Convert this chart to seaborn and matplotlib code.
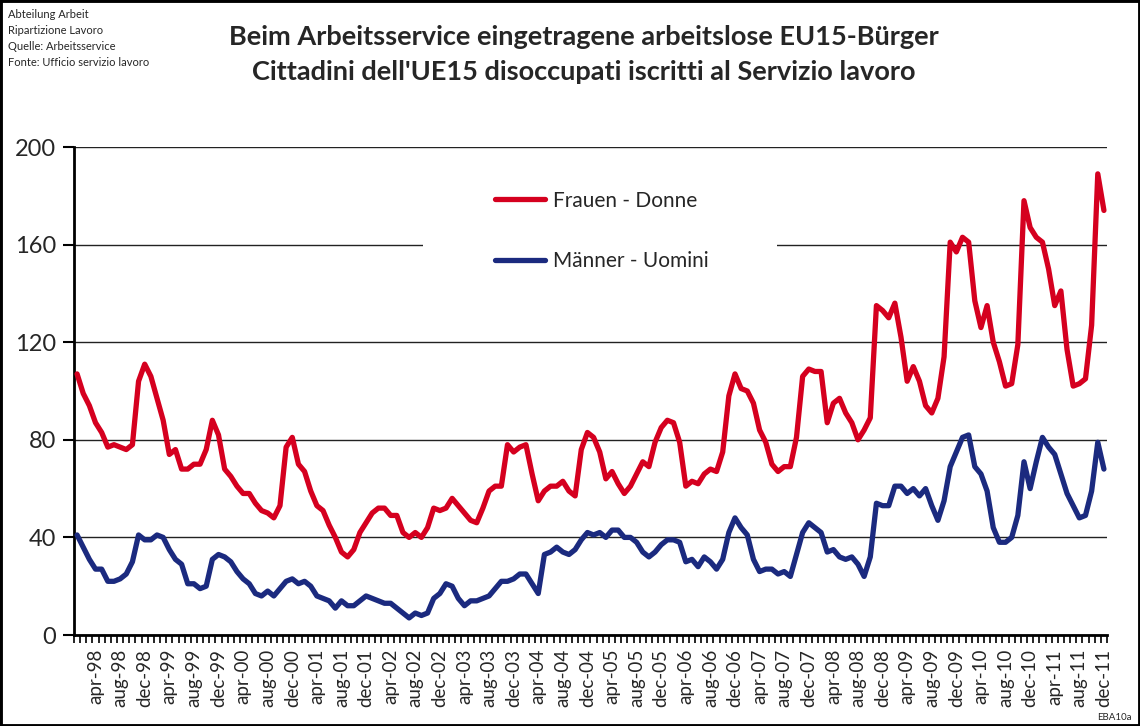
import numpy as np
import pandas as pd
import matplotlib
matplotlib.use("Agg")
import matplotlib.pyplot as plt
from matplotlib.patches import Rectangle
from matplotlib.ticker import FixedLocator, NullFormatter
import seaborn as sns

# Monthly registered unemployed EU15 citizens, Jan 1998 - Dec 2011
month_names = ["jan", "feb", "mar", "apr", "may", "jun",
               "jul", "aug", "sep", "oct", "nov", "dec"]
years = list(range(1998, 2012))
month_labels = [f"{m}-{y % 100:02d}" for y in years for m in month_names]

frauen = [
    107, 99, 94, 87, 83, 77, 78, 77, 76, 78, 104, 111,   # 1998
    106, 97, 88, 74, 76, 68, 68, 70, 70, 76, 88, 82,     # 1999
    68, 65, 61, 58, 58, 54, 51, 50, 48, 53, 77, 81,      # 2000
    70, 67, 59, 53, 51, 45, 40, 34, 32, 35, 42, 46,      # 2001
    50, 52, 52, 49, 49, 42, 40, 42, 40, 44, 52, 51,      # 2002
    52, 56, 53, 50, 47, 46, 52, 59, 61, 61, 78, 75,      # 2003
    77, 78, 66, 55, 59, 61, 61, 63, 59, 57, 76, 83,      # 2004
    81, 75, 64, 67, 62, 58, 61, 66, 71, 69, 79, 85,      # 2005
    88, 87, 79, 61, 63, 62, 66, 68, 67, 75, 98, 107,     # 2006
    101, 100, 95, 84, 79, 70, 67, 69, 69, 81, 106, 109,  # 2007
    108, 108, 87, 95, 97, 91, 87, 80, 84, 89, 135, 133,  # 2008
    130, 136, 122, 104, 110, 104, 94, 91, 97, 114, 161, 157,   # 2009
    163, 161, 137, 126, 135, 120, 112, 102, 103, 119, 178, 167,  # 2010
    163, 161, 150, 135, 141, 117, 102, 103, 105, 127, 189, 174,  # 2011
]

maenner = [
    41, 36, 31, 27, 27, 22, 22, 23, 25, 30, 41, 39,      # 1998
    39, 41, 40, 35, 31, 29, 21, 21, 19, 20, 31, 33,      # 1999
    32, 30, 26, 23, 21, 17, 16, 18, 16, 19, 22, 23,      # 2000
    21, 22, 20, 16, 15, 14, 11, 14, 12, 12, 14, 16,      # 2001
    15, 14, 13, 13, 11, 9, 7, 9, 8, 9, 15, 17,           # 2002
    21, 20, 15, 12, 14, 14, 15, 16, 19, 22, 22, 23,      # 2003
    25, 25, 21, 17, 33, 34, 36, 34, 33, 35, 39, 42,      # 2004
    41, 42, 40, 43, 43, 40, 40, 38, 34, 32, 34, 37,      # 2005
    39, 39, 38, 30, 31, 28, 32, 30, 27, 31, 42, 48,      # 2006
    44, 41, 31, 26, 27, 27, 25, 26, 24, 33, 42, 46,      # 2007
    44, 42, 34, 35, 32, 31, 32, 29, 24, 32, 54, 53,      # 2008
    53, 61, 61, 58, 60, 57, 60, 53, 47, 55, 69, 75,      # 2009
    81, 82, 69, 66, 59, 44, 38, 38, 40, 49, 71, 60,      # 2010
    71, 81, 77, 74, 66, 58, 53, 48, 49, 59, 79, 68,      # 2011
]

series_names = ["Frauen - Donne", "Männer - Uomini"]
series_colors = ["#D5001F", "#1B2A7F"]
y_ticks = [0, 40, 80, 120, 160, 200]

title_de = "Beim Arbeitsservice eingetragene arbeitslose EU15-Bürger"
title_it = "Cittadini dell'UE15 disoccupati iscritti al Servizio lavoro"
source_lines = ["Abteilung Arbeit", "Ripartizione Lavoro",
                "Quelle: Arbeitsservice", "Fonte: Ufficio servizio lavoro"]
chart_code = "EBA10a"

sns.set_theme(style="white")
plt.rcParams["font.family"] = ["Lato", "DejaVu Sans"]

idx = np.arange(len(month_labels))
df = pd.DataFrame({"idx": idx, series_names[0]: frauen, series_names[1]: maenner})
long_df = df.melt(id_vars="idx", var_name="serie", value_name="wert")

fig = plt.figure(figsize=(11.4, 7.26), dpi=100)
ax = fig.add_axes([74 / 1140, 1 - 635 / 726, (1107 - 74) / 1140, (635 - 147) / 726])

sns.lineplot(data=long_df, x="idx", y="wert", hue="serie",
             palette=dict(zip(series_names, series_colors)),
             linewidth=3.8, ax=ax, legend=True, zorder=3)

ax.set_xlim(-0.5, len(month_labels) - 0.5)
ax.set_ylim(0, 200)
ax.set_xlabel("")
ax.set_ylabel("")

# y axis and horizontal grid
ax.set_yticks(y_ticks)
ax.set_yticklabels([str(v) for v in y_ticks], fontsize=17)
ax.yaxis.grid(True, color="#222222", linewidth=1)
ax.xaxis.grid(False)
ax.set_axisbelow(True)
ax.tick_params(axis="y", direction="out", length=8, width=1.5, pad=5,
               color="black", left=True)

# x axis: a tick between every month, a label every fourth month
label_pos = idx[3::4]
ax.xaxis.set_major_locator(FixedLocator(label_pos))
ax.set_xticklabels([month_labels[i] for i in label_pos], rotation=90, fontsize=13.5)
ax.xaxis.set_minor_locator(FixedLocator(np.arange(-0.5, len(month_labels), 1)))
ax.xaxis.set_minor_formatter(NullFormatter())
ax.tick_params(axis="x", which="major", length=0, pad=10, bottom=True)
ax.tick_params(axis="x", which="minor", direction="out", length=6, width=1.2,
               color="black", bottom=True)

for side in ["top", "right"]:
    ax.spines[side].set_visible(False)
for side in ["left", "bottom"]:
    ax.spines[side].set_color("black")
    ax.spines[side].set_linewidth(2)

# white backing behind the legend, interrupting the grid
ax.add_patch(Rectangle((0.338, 0.74), 0.343, 0.19, transform=ax.transAxes,
                       facecolor="white", edgecolor="none", zorder=1))

handles, labels = ax.get_legend_handles_labels()
leg = ax.legend(handles, labels, loc="center left", bbox_to_anchor=(0.3898, 0.828),
                frameon=False, fontsize=15, handlelength=2.4, handletextpad=0.35,
                labelspacing=1.95)
for line in leg.get_lines():
    line.set_linewidth(3.8)

# titles and notes
fig.text(0.512, 1 - 37 / 726, title_de, ha="center", va="center",
         fontsize=19.5, fontweight="bold")
fig.text(0.512, 1 - 72 / 726, title_it, ha="center", va="center",
         fontsize=19.5, fontweight="bold")
for k, line in enumerate(source_lines):
    fig.text(8 / 1140, 1 - (15 + 16 * k) / 726, line, ha="left", va="center",
             fontsize=8)
fig.text(1 - 8 / 1140, 1 - 717 / 726, chart_code, ha="right", va="center",
         fontsize=7)

fig.patches.append(Rectangle((0, 0), 1, 1, transform=fig.transFigure,
                             fill=False, edgecolor="black", linewidth=3.5))

fig.savefig("out.png", dpi=100)
